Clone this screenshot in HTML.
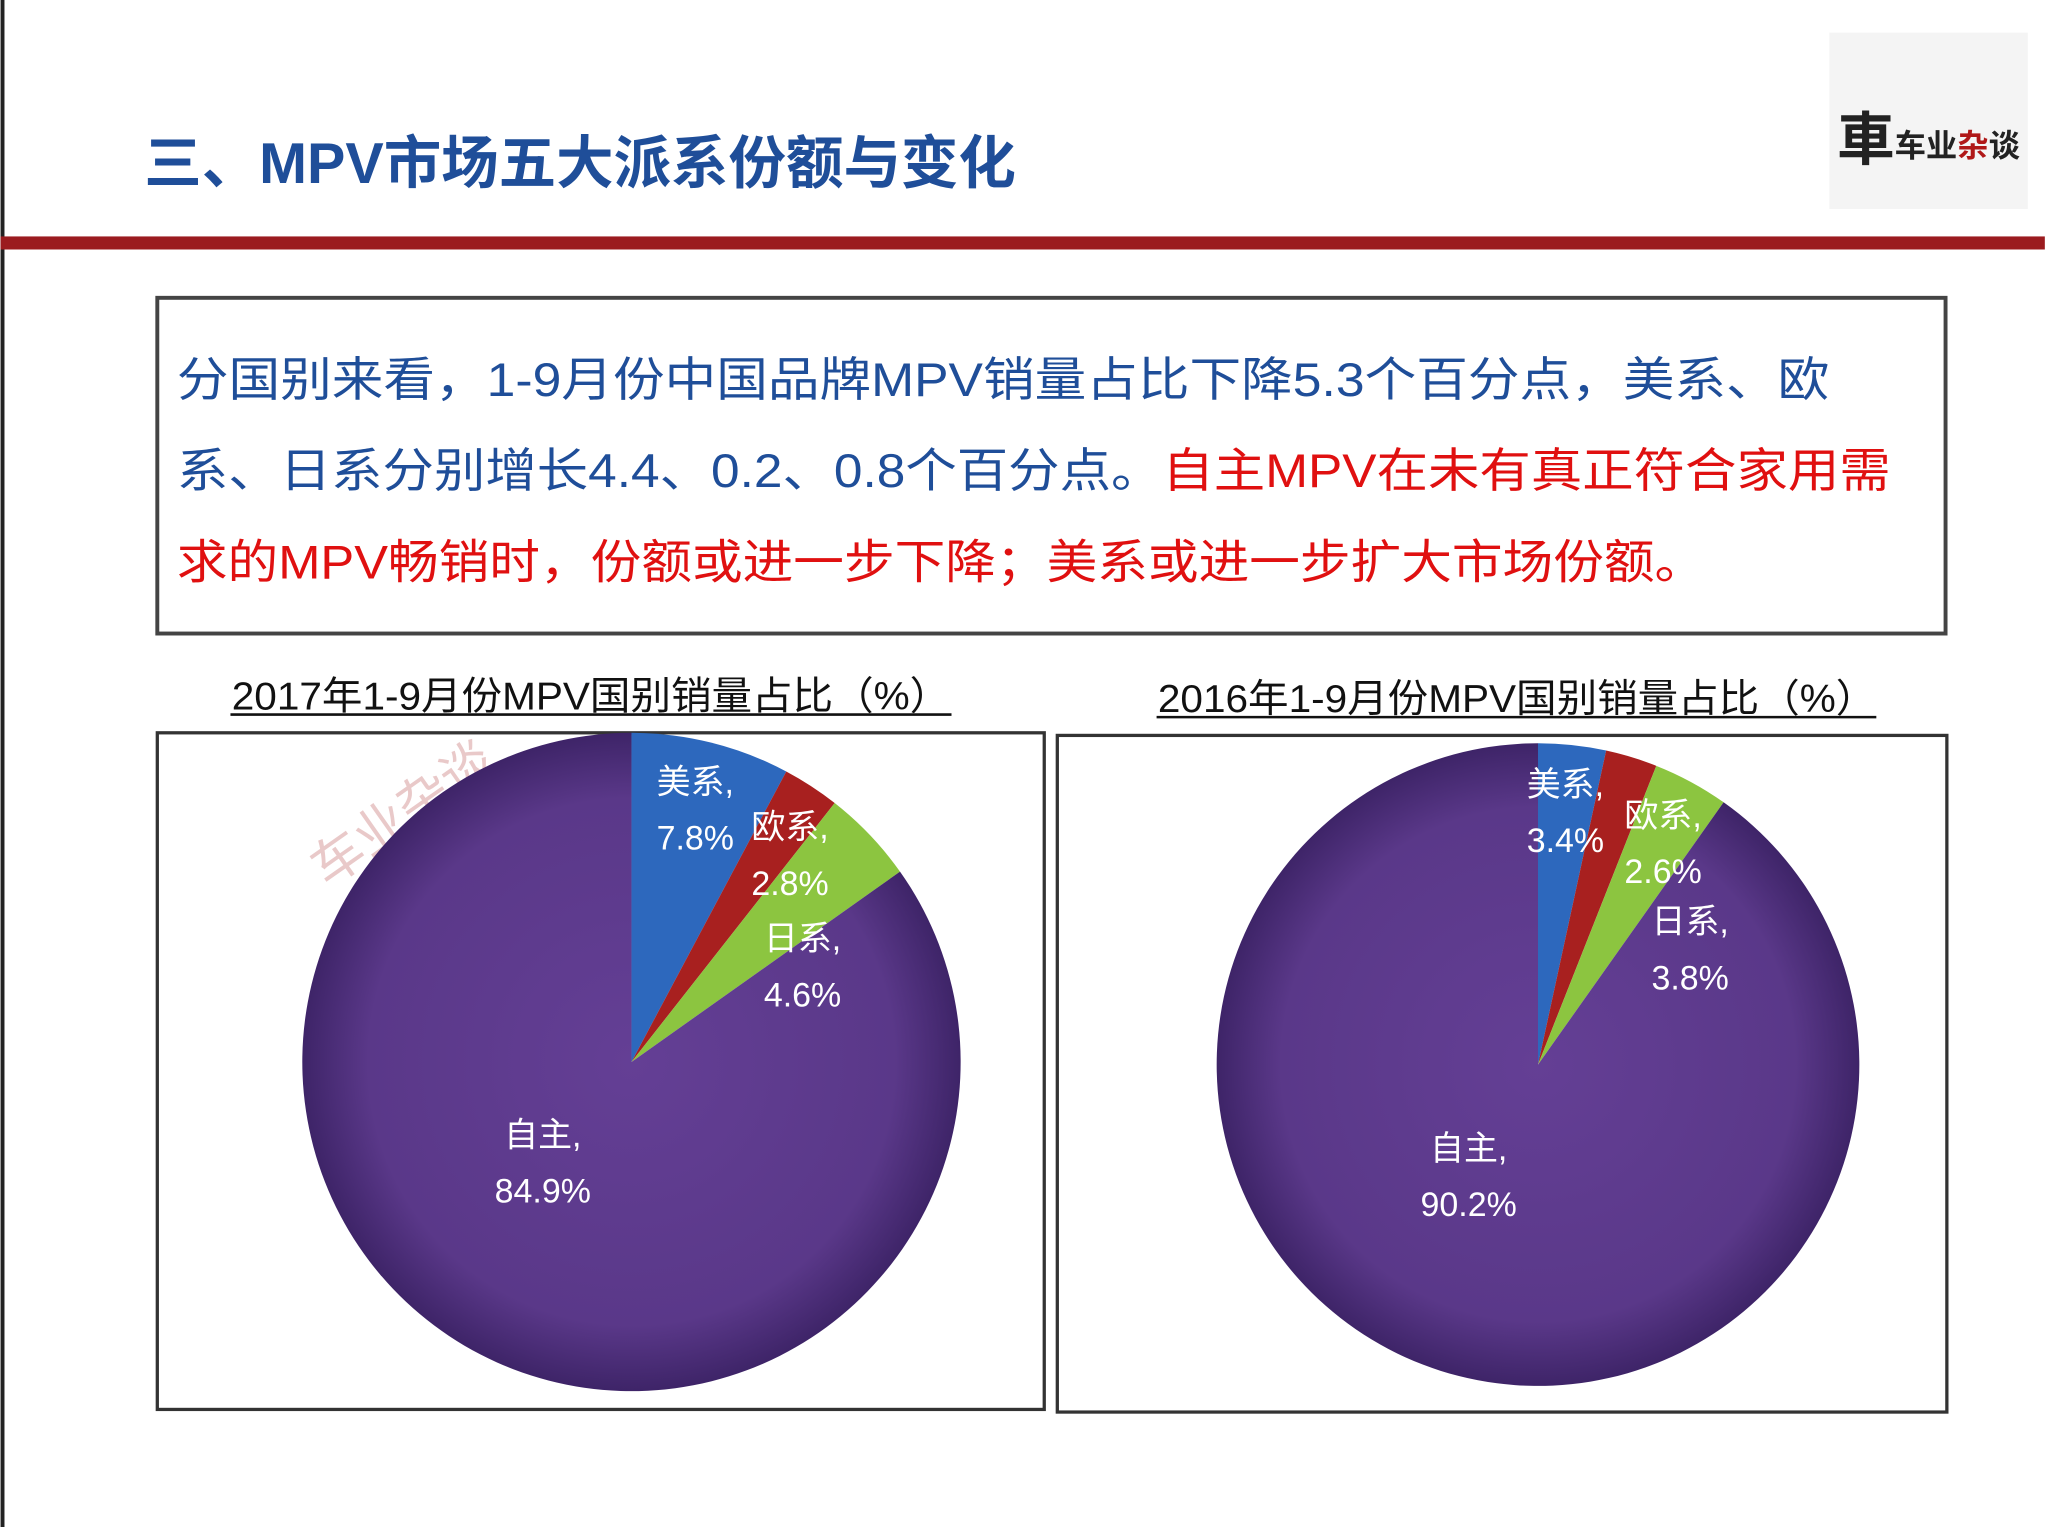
<!DOCTYPE html>
<html><head><meta charset="utf-8">
<style>
html,body{margin:0;padding:0;background:#fff;}
svg{display:block;}
text{font-family:"Liberation Sans","Noto Sans CJK SC",sans-serif;}
</style></head>
<body>
<svg width="2048" height="1527" viewBox="0 0 1567 1169" xmlns="http://www.w3.org/2000/svg">
<defs>
<radialGradient id="pg" cx="50%" cy="50%" r="50%">
<stop offset="0%" stop-color="#643f95"/><stop offset="80%" stop-color="#5a3889"/><stop offset="100%" stop-color="#3e2468"/>
</radialGradient>
</defs>
<rect width="1567" height="1169" fill="#fff"/>
<rect x="0" y="0" width="3" height="1169" fill="#222"/>
<text x="110" y="140" font-size="44" font-weight="bold" fill="#1f4e99">三、MPV市场五大派系份额与变化</text>
<rect x="0" y="181" width="1565" height="10" fill="#9b1b1f"/>
<g>
<rect x="1400" y="25" width="152" height="135" fill="#f4f4f4"/>
<text x="1406" y="122" font-size="44" font-weight="bold" fill="#222" font-family="Noto Serif CJK SC,serif">車</text>
<text x="1450" y="120" font-size="24" font-weight="bold" fill="#222" font-family="Noto Serif CJK SC,serif">车业<tspan fill="#b01818">杂</tspan>谈</text>
</g>
<rect x="120" y="228" width="1369" height="257" fill="none" stroke="#444" stroke-width="3"/>
<g font-size="36">
<text x="135" y="303" fill="#1f4e99" textLength="1265" lengthAdjust="spacingAndGlyphs">分国别来看，1-9月份中国品牌MPV销量占比下降5.3个百分点，美系、欧</text>
<text x="135" y="373" fill="#1f4e99" textLength="1312" lengthAdjust="spacingAndGlyphs">系、日系分别增长4.4、0.2、0.8个百分点。<tspan fill="#e01010">自主MPV在未有真正符合家用需</tspan></text>
<text x="135" y="443" fill="#e01010" textLength="1170" lengthAdjust="spacingAndGlyphs">求的MPV畅销时，份额或进一步下降；美系或进一步扩大市场份额。</text>
</g>
<text x="177" y="543" font-size="30" fill="#111" textLength="550" lengthAdjust="spacingAndGlyphs">2017年1-9月份MPV国别销量占比（%）</text>
<line x1="176" y1="547" x2="728" y2="547" stroke="#111" stroke-width="2"/>
<text x="886" y="545" font-size="30" fill="#111" textLength="550" lengthAdjust="spacingAndGlyphs">2016年1-9月份MPV国别销量占比（%）</text>
<line x1="885" y1="549" x2="1436" y2="549" stroke="#111" stroke-width="2"/>
<rect x="120" y="561" width="679" height="518" fill="#fff" stroke="#333" stroke-width="2.5"/>
<rect x="809" y="563" width="681" height="518" fill="#fff" stroke="#333" stroke-width="2.5"/>
<text x="250" y="680" font-size="40" fill="#d08a8a" opacity="0.45" transform="rotate(-35 250 680)">车业杂谈</text>
<g id="pie1"></g>
<g id="pie2"></g>
</svg>
<script>
const categories = ["美系","欧系","日系","自主"];
const values2017 = [7.8, 2.8, 4.6, 84.9];
const values2016 = [3.4, 2.6, 3.8, 90.2];
const colors = ["#2d68bd","#a8201f","#8cc540","url(#pg)"];
const NS="http://www.w3.org/2000/svg";
function drawPie(id, vals, cx, cy, r){
  const g=document.getElementById(id);
  const total=vals.reduce((a,b)=>a+b,0);
  let acc=0;
  vals.forEach((v,i)=>{
    const a0=acc/total*2*Math.PI, a1=(acc+v)/total*2*Math.PI;
    acc+=v;
    const x0=cx+r*Math.sin(a0), y0=cy-r*Math.cos(a0);
    const x1=cx+r*Math.sin(a1), y1=cy-r*Math.cos(a1);
    const large=(a1-a0)>Math.PI?1:0;
    const p=document.createElementNS(NS,"path");
    p.setAttribute("d",`M${cx},${cy}L${x0},${y0}A${r},${r} 0 ${large} 1 ${x1},${y1}Z`);
    p.setAttribute("fill",colors[i]);
    
    
    g.appendChild(p);
  });
  acc=0;
  let prevDeg=-100;
  vals.forEach((v,i)=>{
    let deg=(acc+v/2)/total*360; acc+=v;
    let f;
    if(v/total>0.5){ deg+=15; f=0.4; }
    else { deg=Math.max(deg, prevDeg+23); prevDeg=deg; f=deg>45?0.6:0.8; }
    const am=deg*Math.PI/180;
    const lx=cx+r*f*Math.sin(am), ly=cy-r*f*Math.cos(am);
    const t=document.createElementNS(NS,"text");
    t.setAttribute("x",lx); t.setAttribute("y",ly-10);
    t.setAttribute("text-anchor","middle"); t.setAttribute("font-size","26"); t.setAttribute("fill","#fff");
    t.textContent=categories[i]+",";
    
    
    g.appendChild(t);
    const t2=document.createElementNS(NS,"text");
    t2.setAttribute("x",lx); t2.setAttribute("y",ly+33);
    t2.setAttribute("text-anchor","middle"); t2.setAttribute("font-size","26"); t2.setAttribute("fill","#fff");
    t2.textContent=v.toFixed(1)+"%";
    
    
    g.appendChild(t2);
  });
}
drawPie("pie1", values2017, 483, 813, 252);
drawPie("pie2", values2016, 1177, 815, 246);
</script>
</body></html>
